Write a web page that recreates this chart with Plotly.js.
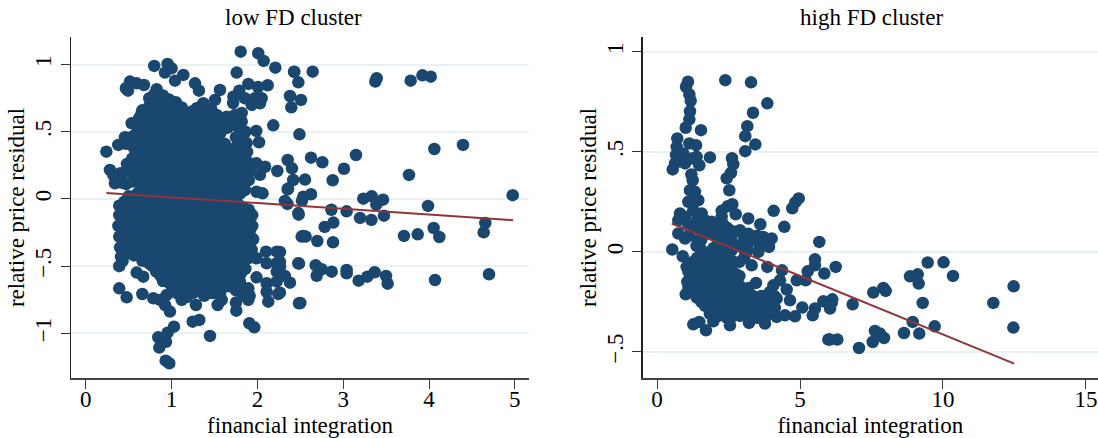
<!DOCTYPE html>
<html><head><meta charset="utf-8">
<script src="https://cdn.plot.ly/plotly-3.0.1.min.js"></script>
<style>html,body{margin:0;padding:0;background:#fff}#c{width:1098px;height:438px}</style>
</head><body><div id="c"></div>
<script>
// [financial integration, relative price residual]
const lowOutliers = [[.24,.352],[1.805,1.096],[2.01,1.084],[2.073,1.027],[2.209,.977],[1.759,.94],[2.43,.945],[2.477,.868],[1.894,.856],[2.12,.846],[2.008,.833],[2.38,.766],[2.508,.737],[2.395,.682],[2.185,.548],[2.49,.481],[1.987,.506],[2.019,.422],[2.353,.29],[2.403,.228],[2.232,.208],[2.418,.141],[2.353,.072],[1.99,.054],[2.06,.042],[2.32,-.015],[2.35,-.037],[2.477,-.105],
[.798,.99],[.954,1.004],[.923,.94],[1,.972],[1.04,.88],[1.137,.923],[1.273,.86],[1.319,.806],[.515,.873],[.678,.848],[.468,.824],[.492,.806],[.593,.86],[.826,.816],[1.564,.811],[1.506,.737],[1.72,.761],[1.789,.806],[1.855,.749],[1.972,.749],[2.05,.749],[2.03,.712],[1.934,.7],[1.717,.714],
[.535,.563],[.379,.402],[.457,.459],[.65,.637],[.282,.216],[.34,.117],[.32,.179],[.5,.25],[.4,.19],
[.593,-.548],[.67,-.578],[.39,-.665],[.477,-.732],[.659,-.707],[.787,-.739],[.865,-.751],[.943,-.714],[.923,-.789],[.981,-.838],[1.118,-.751],[1.284,-.789],[1.537,-.789],[1.584,-.751],[1.75,-.771],[1.754,-.831],[1.894,-.751],[2.127,-.764],[2.244,-.707],[1.99,-.583],[2.38,-.623],[2.32,-.573],[2.225,-.392],[2.1,-.392],[2.225,-.478],[1.934,-.38],[1.875,-.268],[1.894,-.193],[2.477,-.478],[2.516,-.28],[2.485,-.776],
[1.246,-.913],[1.323,-.9],[1.906,-.925],[1.964,-.955],[1.448,-1.019],[1.028,-.95],[.954,-.995],[.845,-1.029],[.935,-1.062],[.857,-1.106],[.931,-1.203],[.973,-1.222],
[2.427,.947],[2.644,.947],[3.39,.898],[3.374,.873],[3.786,.88],[3.923,.92],[4.02,.91],[4.062,.372],[4.396,.402],[3.149,.327],[2.625,.307],[2.757,.273],[3.009,.225],[3.767,.179],[2.877,.139],[2.555,.144],[2.357,.077],[2.625,.035],[2.535,.017],[2.52,-.013],[3.234,.002],[3.332,.02],[3.464,-.005],[3.386,-.042],[4.975,.028],[3.988,-.052],[2.862,-.08],[3.04,-.092],[2.481,-.117],[3.475,-.124],[3.196,-.141],[3.328,-.156],[2.885,-.176],[2.784,-.208],[4.656,-.179],[4.637,-.248],[4.054,-.216],[4.12,-.283],[3.708,-.275],[3.868,-.263],[2.535,-.275],[2.562,-.28],[2.698,-.313],[2.881,-.322],[2.485,-.481],[2.679,-.493],[2.749,-.523],[2.691,-.571],[2.866,-.541],[3.04,-.528],[3.04,-.553],[3.367,-.545],[3.281,-.578],[3.18,-.608],[3.499,-.573],[3.518,-.63],[4.07,-.603],[4.699,-.56],[2.5,-.774],[2.263,-.697],[2.263,-.394],[2.263,-.469],[2.263,-.506],
[1.797,-.615],[1.894,-.665],[2.108,-.627],[2.225,-.615],[2.108,-.69],[1.99,-.441],[2.108,-.478],[2.225,-.541],
[1.99,.265],[2.09,.24],[2.03,.18],[1.855,.327],[1.875,.416],[1.817,.64],[1.8,.5],[1.855,.067],[1.775,.119],[1.89,-.127]];
const lowCloudUpper = [[.42,.12],[.41,.19],[.47,.11],[.46,.2],[.48,.26],[.47,.41],[.55,.13],[.56,.22],[.54,.3],[.55,.39],[.56,.47],[.62,.12],[.63,.2],[.61,.29],[.62,.36],[.63,.44],[.61,.52],[.62,.6],[.7,.09],[.71,.17],[.69,.25],[.7,.33],[.71,.41],[.69,.5],[.7,.58],[.71,.66],[.78,.07],[.79,.16],[.77,.23],[.78,.32],[.79,.4],[.77,.47],[.78,.56],[.79,.63],[.77,.71],[.8,.78],[.86,.05],[.87,.13],[.85,.21],[.86,.3],[.87,.38],[.85,.46],[.86,.54],[.87,.61],[.85,.69],[.86,.75],[.94,.06],[.95,.15],[.93,.22],[.94,.31],[.95,.39],[.93,.47],[.94,.55],[.95,.63],[.93,.7],[1.02,.04],[1.03,.12],[1.01,.21],[1.02,.29],[1.03,.37],[1.01,.46],[1.02,.53],[1.03,.61],[1.01,.69],[1.1,.07],[1.11,.14],[1.09,.23],[1.1,.3],[1.11,.4],[1.09,.48],[1.1,.55],[1.11,.63],[1.18,.05],[1.19,.13],[1.17,.22],[1.18,.3],[1.19,.37],[1.17,.45],[1.18,.53],[1.19,.6],[1.26,.03],[1.27,.11],[1.25,.19],[1.26,.27],[1.27,.34],[1.25,.43],[1.26,.51],[1.27,.58],[1.25,.64],[1.34,.06],[1.35,.13],[1.33,.21],[1.34,.3],[1.35,.38],[1.33,.46],[1.34,.54],[1.35,.62],[1.33,.68],[1.42,.04],[1.43,.12],[1.41,.2],[1.42,.28],[1.43,.36],[1.41,.43],[1.42,.52],[1.43,.6],[1.5,.07],[1.51,.15],[1.49,.24],[1.5,.31],[1.51,.39],[1.49,.47],[1.5,.56],[1.58,.04],[1.59,.11],[1.57,.2],[1.58,.28],[1.59,.37],[1.57,.49],[1.58,.56],[1.66,.07],[1.67,.14],[1.65,.23],[1.66,.33],[1.65,.53],[1.74,.12],[1.75,.2],[1.73,.28],[1.74,.38],[1.75,.46],[1.73,.55],[1.82,.16],[1.83,.24],[1.81,.33],[1.82,.42],[1.83,.5],[1.81,.58],[1.9,.2]];
const lowCloudUpperFill = [[.58,.17],[.58,.26],[.58,.34],[.58,.43],[.66,.08],[.66,.16],[.66,.25],[.66,.33],[.66,.41],[.66,.49],[.66,.56],[.74,.13],[.74,.21],[.74,.29],[.74,.37],[.74,.45],[.74,.54],[.74,.62],[.74,.69],[.82,.03],[.82,.11],[.82,.2],[.82,.27],[.82,.36],[.82,.43],[.82,.51],[.82,.59],[.82,.67],[.82,.74],[.9,.01],[.9,.09],[.9,.17],[.9,.26],[.9,.34],[.9,.42],[.9,.5],[.9,.58],[.9,.65],[.9,.72],[.98,.02],[.98,.1],[.98,.18],[.98,.26],[.98,.35],[.98,.43],[.98,.51],[.98,.59],[.98,.66],[1.06,.01],[1.06,.09],[1.06,.17],[1.06,.25],[1.06,.34],[1.06,.42],[1.06,.5],[1.06,.58],[1.06,.65],[1.14,.02],[1.14,.1],[1.14,.18],[1.14,.26],[1.14,.34],[1.14,.42],[1.14,.5],[1.14,.57],[1.22,.08],[1.22,.16],[1.22,.24],[1.22,.32],[1.22,.4],[1.22,.48],[1.22,.56],[1.3,.07],[1.3,.15],[1.3,.23],[1.3,.31],[1.3,.39],[1.3,.47],[1.3,.55],[1.3,.62],[1.38,.09],[1.38,.17],[1.38,.25],[1.38,.33],[1.38,.41],[1.38,.49],[1.38,.57],[1.38,.65],[1.46,.08],[1.46,.16],[1.46,.24],[1.46,.34],[1.46,.42],[1.46,.5],[1.46,.58],[1.46,.67],[1.54,.11],[1.54,.19],[1.54,.27],[1.54,.35],[1.54,.43],[1.54,.52],[1.55,.61],[1.62,.16],[1.62,.25],[1.62,.33],[1.62,.41],[1.7,.09],[1.7,.18],[1.7,.26],[1.7,.36],[1.71,.61],[1.78,.24],[1.78,.32],[1.78,.41],[1.78,.6],[1.86,.22],[1.92,.24]];
const lowCloudTop = [[1.37,.712],[1.293,.675],[1.234,.65],[1.43,.65],[1.525,.625],[1.642,.612],[1.739,.625],[1.817,.575],[1.86,.5],[1.88,.35],[1.9,.27],[1.9,.14],[1.75,.08],[1.78,.1],[1.12,.68],[1.05,.72],[.97,.74],[.9,.77],[.74,.75],[.66,.66]];
const lowCloudBand = [[.5,.02],[.56,-.01],[.6,.04],[.66,.01],[.72,.04],[.78,-.01],[.84,.02],[.9,-.02],[.96,.02],[1.02,-.01],[1.08,.02],[1.14,-.02],[1.2,.02],[1.26,-.02],[1.32,.01],[1.38,-.01],[1.44,.01],[1.5,0],[1.56,-.01],[1.62,.02],[1.68,0],[1.74,.03],[1.8,.04],[1.78,-.04],[1.72,-.06],[.45,-.02],[.39,-.05],[.39,-.12],[.38,-.2],[1.9,-.08],[1.85,-.07],[1.8,-.09],[1.94,-.12],[1.94,-.2],[1.95,-.3]];
const lowCloudLower = [[.4,-.12],[.41,-.2],[.39,-.28],[.4,-.36],[.41,-.43],[.39,-.5],[.46,-.06],[.47,-.14],[.45,-.24],[.46,-.32],[.47,-.4],[.54,-.03],[.55,-.11],[.53,-.2],[.54,-.28],[.55,-.36],[.56,-.42],[.62,-.02],[.63,-.1],[.61,-.19],[.62,-.27],[.63,-.35],[.61,-.41],[.7,-.03],[.71,-.12],[.69,-.2],[.7,-.28],[.71,-.36],[.69,-.44],[.78,-.04],[.79,-.1],[.77,-.19],[.78,-.27],[.79,-.35],[.77,-.43],[.78,-.5],[.86,-.01],[.87,-.09],[.85,-.17],[.86,-.26],[.87,-.34],[.85,-.42],[.86,-.5],[.87,-.57],[.94,-.03],[.95,-.12],[.93,-.2],[.94,-.28],[.95,-.37],[.93,-.45],[.94,-.53],[.95,-.6],[1.02,-.02],[1.03,-.09],[1.01,-.18],[1.02,-.26],[1.03,-.35],[1.01,-.43],[1.02,-.51],[1.03,-.59],[1.01,-.66],[1.1,-.05],[1.11,-.13],[1.09,-.21],[1.1,-.3],[1.11,-.38],[1.09,-.46],[1.1,-.54],[1.11,-.62],[1.09,-.7],[1.18,-.03],[1.19,-.1],[1.17,-.18],[1.18,-.27],[1.19,-.35],[1.17,-.43],[1.18,-.5],[1.19,-.58],[1.17,-.67],[1.18,-.73],[1.26,-.06],[1.27,-.14],[1.25,-.22],[1.26,-.31],[1.27,-.39],[1.25,-.47],[1.26,-.55],[1.27,-.63],[1.25,-.7],[1.34,-.04],[1.35,-.11],[1.33,-.19],[1.34,-.28],[1.35,-.36],[1.33,-.44],[1.34,-.52],[1.35,-.6],[1.33,-.68],[1.42,-.02],[1.43,-.09],[1.41,-.17],[1.42,-.25],[1.43,-.34],[1.41,-.42],[1.42,-.5],[1.43,-.58],[1.41,-.66],[1.5,-.06],[1.51,-.14],[1.49,-.22],[1.5,-.3],[1.51,-.38],[1.49,-.46],[1.5,-.54],[1.51,-.62],[1.49,-.7],[1.58,-.03],[1.59,-.11],[1.57,-.2],[1.58,-.27],[1.59,-.36],[1.57,-.44],[1.58,-.52],[1.59,-.6],[1.57,-.69],[1.66,-.07],[1.67,-.15],[1.65,-.23],[1.66,-.32],[1.67,-.4],[1.65,-.48],[1.66,-.56],[1.67,-.65],[1.74,-.09],[1.75,-.17],[1.73,-.26],[1.74,-.34],[1.75,-.42],[1.73,-.5],[1.74,-.6],[1.75,-.68],[1.82,-.13],[1.83,-.21],[1.81,-.29],[1.82,-.38],[1.83,-.46],[1.81,-.55],[1.82,-.66],[1.83,-.72],[1.9,-.15],[1.91,-.24],[1.89,-.33],[1.9,-.44],[1.91,-.72]];
const lowCloudLowerFill = [[.44,-.1],[.44,-.18],[.43,-.26],[.44,-.34],[.43,-.46],[.5,-.08],[.5,-.16],[.5,-.24],[.5,-.32],[.5,-.4],[.58,-.07],[.58,-.15],[.58,-.23],[.58,-.31],[.58,-.39],[.66,-.06],[.66,-.15],[.66,-.23],[.66,-.31],[.66,-.39],[.66,-.46],[.74,-.07],[.74,-.15],[.74,-.24],[.74,-.32],[.74,-.4],[.74,-.48],[.82,-.06],[.82,-.13],[.82,-.22],[.82,-.3],[.82,-.38],[.82,-.46],[.82,-.54],[.9,-.05],[.9,-.14],[.9,-.22],[.9,-.3],[.9,-.38],[.9,-.46],[.9,-.54],[.9,-.61],[.98,-.07],[.98,-.15],[.98,-.23],[.98,-.31],[.98,-.4],[.98,-.48],[.98,-.56],[.98,-.63],[1.06,-.05],[1.06,-.14],[1.06,-.22],[1.06,-.3],[1.06,-.39],[1.06,-.47],[1.06,-.55],[1.06,-.63],[1.06,-.7],[1.14,-.08],[1.14,-.17],[1.14,-.25],[1.14,-.34],[1.14,-.42],[1.14,-.5],[1.14,-.58],[1.14,-.66],[1.22,-.06],[1.22,-.14],[1.22,-.22],[1.22,-.31],[1.22,-.39],[1.22,-.47],[1.22,-.54],[1.22,-.62],[1.22,-.7],[1.3,-.1],[1.3,-.18],[1.3,-.26],[1.3,-.35],[1.3,-.43],[1.3,-.51],[1.3,-.59],[1.3,-.67],[1.38,-.07],[1.38,-.15],[1.38,-.23],[1.38,-.32],[1.38,-.4],[1.38,-.48],[1.38,-.56],[1.38,-.64],[1.38,-.72],[1.46,-.06],[1.46,-.13],[1.46,-.21],[1.46,-.29],[1.46,-.38],[1.46,-.46],[1.46,-.54],[1.46,-.62],[1.46,-.7],[1.54,-.1],[1.54,-.18],[1.54,-.26],[1.54,-.34],[1.54,-.42],[1.54,-.5],[1.54,-.58],[1.54,-.66],[1.62,-.07],[1.62,-.15],[1.62,-.24],[1.62,-.32],[1.62,-.4],[1.62,-.48],[1.62,-.56],[1.62,-.64],[1.7,-.11],[1.7,-.19],[1.7,-.28],[1.7,-.36],[1.7,-.44],[1.7,-.52],[1.7,-.6],[1.78,-.15],[1.78,-.23],[1.78,-.31],[1.78,-.4],[1.78,-.48],[1.78,-.55],[1.86,-.17],[1.86,-.25],[1.86,-.35],[1.86,-.43],[1.86,-.52]];
const highOutliers = [[1.084,.85],[1.014,.825],[1.13,.787],[1.178,.755],[1.154,.703],[1.13,.662],[1.003,.62],[1.538,.608],[2.388,.858],[3.287,.847],[3.857,.742],[3.357,.695],[3.157,.628],[3.087,.578],[3.438,.537],[3.087,.503],[2.622,.468],[2.668,.438],[2.587,.395],[2.437,.368],[2.528,.308],[1.853,.472],[1.479,.433],[.549,.412],[.71,.567],[1.364,.533],[1.13,.542],[.689,.525],[.664,.484],[.629,.442],[.92,.492],[.979,.442],[1.213,.467],[1.388,.475],[1.2,.387],[1.248,.358],[1.154,.308],[1.329,.3],[1.27,.258],[1.094,.25],[1.444,.258],[2.633,.238],[2.472,.228],[2.752,.188],[2.262,.205],[3.192,.167],[4.08,.205],[4.955,.267],[4.836,.247],[4.73,.218],[3.612,.138],[4.451,.125],[.804,.192],[.745,.158],[.979,.175],[1.27,.208],[1.563,.192],[1.388,.158],[1.678,.158],[1.913,.15],[2.203,.142],[2.262,.175],[2.902,.108],[2.552,.108],
[.745,.092],[.979,.067],[1.444,.058],[.535,.012],[.899,-.022],[1.038,-.075],[1.06,-.15],[1.003,-.212],[1.388,-.228],[5.675,.05],[4.01,.067],[3.916,.025],[3.6,.033],[3.542,0],[3.717,.075],[5.524,-.037],[5.524,-.067],[5.269,-.097],[5.85,-.108],[4.371,-.092],[3.857,-.075],[3.311,-.067],[2.878,-.05],[4.885,-.142],[5.199,-.142],[4.301,-.142],[4.068,-.167],[3.462,-.155],[4.535,-.188],[4.65,-.242],[4.185,-.233],[5.08,-.278],[5.524,-.283],[5.444,-.317],[4.825,-.322],[4.476,-.317],[4.185,-.325],[3.776,-.358],[3.217,-.355],[2.552,-.367],[1.969,-.347],[1.27,-.362],[1.479,-.35],[1.713,-.392],[5.99,-.438],[5.815,-.247],[6.108,-.255],
[6.248,-.075],[6.13,-.237],[6.05,-.283],[6.842,-.262],[6.306,-.438],[6.05,-.438],[7.063,-.48],[7.563,-.203],[7.913,-.18],[7.997,-.195],[7.622,-.395],[7.797,-.408],[7.937,-.43],[7.542,-.45],[8.636,-.405],[8.94,-.35],[9.17,-.408],[9.71,-.372],[9.29,-.255],[11.76,-.255],[12.47,-.172],[12.46,-.378],[8.846,-.122],[9.115,-.112],[9.15,-.158],[9.465,-.053],[10.02,-.052],[10.35,-.12]];
const highCloud = [[1.1,.13],[1.12,.08],[1.1,-.1],[1.12,-.14],[1.1,-.18],[1.4,.14],[1.38,.03],[1.4,-.03],[1.42,-.08],[1.38,-.13],[1.4,-.18],[1.42,-.22],[1.7,.13],[1.72,.09],[1.7,-.02],[1.72,-.07],[1.68,-.12],[1.7,-.17],[1.72,-.23],[1.68,-.27],[2,.12],[2.02,.08],[1.98,.02],[2,-.04],[2.02,-.09],[1.98,-.14],[2,-.19],[2.02,-.24],[1.98,-.29],[2,-.33],[2.3,.14],[2.32,.11],[2.28,.05],[2.3,0],[2.32,-.05],[2.28,-.1],[2.3,-.15],[2.32,-.2],[2.28,-.25],[2.3,-.3],[2.6,.06],[2.62,.01],[2.58,-.04],[2.6,-.09],[2.62,-.14],[2.58,-.19],[2.6,-.24],[2.62,-.29],[2.58,-.33],[2.9,.03],[2.88,-.12],[2.9,-.17],[2.92,-.22],[2.88,-.27],[2.9,-.32],[3.2,.09],[3.22,.05],[3.18,.01],[3.2,-.18],[3.22,-.23],[3.18,-.27],[3.2,-.32],[3.5,.08],[3.52,-.24],[3.48,-.29],[3.5,-.33],[3.8,-.23],[3.82,-.28],[3.78,-.33],[4.1,-.22],[4.12,-.28]];
const highCloudFill = [[1.25,.12],[1.25,-.05],[1.25,-.1],[1.25,-.15],[1.25,-.2],[1.55,.11],[1.55,.06],[1.55,.01],[1.55,-.05],[1.55,-.1],[1.55,-.15],[1.55,-.2],[1.55,-.25],[1.85,.11],[1.85,0],[1.85,-.05],[1.85,-.1],[1.85,-.16],[1.85,-.21],[1.85,-.26],[1.85,-.31],[2.15,.1],[2.15,.05],[2.15,-.01],[2.15,-.07],[2.15,-.12],[2.15,-.17],[2.15,-.22],[2.15,-.27],[2.15,-.32],[2.45,.12],[2.45,.07],[2.45,.02],[2.45,-.03],[2.45,-.08],[2.45,-.13],[2.45,-.18],[2.45,-.23],[2.45,-.28],[2.45,-.33],[2.75,.1],[2.75,-.11],[2.75,-.16],[2.75,-.21],[2.75,-.26],[2.75,-.31],[3.05,.06],[3.05,.01],[3.05,-.03],[3.05,-.2],[3.05,-.25],[3.05,-.3],[3.35,.07],[3.35,-.22],[3.35,-.27],[3.35,-.32],[3.65,-.22],[3.65,-.27],[3.65,-.31],[3.95,-.2],[3.95,-.25],[3.95,-.3]];
const lowFitX = [.24,4.98], lowFitY = [.045,-.158];
const highFitX = [.513,12.49], highFitY = [.142,-.558];
const lowXTicks = [0,1,2,3,4,5];
const highXTicks = [0,5,10,15];
const lowYTicks = [-1,-.5,0,.5,1];
const lowYLabels = ['\u22121','\u2212.5','0','.5','1'];
const highYTicks = [-.5,0,.5,1];
const highYLabels = ['\u2212.5','0','.5','1'];
const axisTitleX = 'financial integration', axisTitleY = 'relative price residual';

const W=1098,H=438, NAVY='#1a476f', RED='#90353b', GRID='#eaf2f3';
const FONT='"Liberation Serif","Times New Roman",serif', FS=23;
const lowPts = lowOutliers.concat(lowCloudUpper, lowCloudUpperFill, lowCloudTop, lowCloudBand, lowCloudLower, lowCloudLowerFill);
const highPts = highOutliers.concat(highCloud, highCloudFill);
const pts=(p,xa,ya)=>({type:'scatter',mode:'markers',x:p.map(d=>d[0]),y:p.map(d=>d[1]),xaxis:xa,yaxis:ya,marker:{color:NAVY,size:12.5,line:{width:0}},hoverinfo:'skip'});
const fit=(x,y,xa,ya)=>({type:'scatter',mode:'lines',x,y,xaxis:xa,yaxis:ya,line:{color:RED,width:2},hoverinfo:'skip'});
const xAxis=(dom,range,vals,anchor)=>({domain:dom,range,anchor,tickmode:'array',tickvals:vals,ticktext:vals.map(String),showgrid:false,zeroline:false,showline:true,linecolor:'#444',linewidth:1.5,ticks:'outside',ticklen:9,tickwidth:1,tickcolor:'#444',tickangle:0,ticklabelstandoff:-9,title:{text:axisTitleX,standoff:6,font:{family:FONT,size:FS,color:'#000'}},tickfont:{family:FONT,size:FS,color:'#000'}});
const yAxis=(range,vals,labels,anchor)=>({domain:[1-378/H,1-37/H],range,anchor,tickmode:'array',tickvals:vals,ticktext:labels,showgrid:true,gridcolor:GRID,gridwidth:2,zeroline:false,showline:true,linecolor:'#222',linewidth:1.5,ticks:'outside',ticklen:9,tickwidth:1,tickcolor:'#333',tickangle:-90,title:{text:axisTitleY,standoff:0,font:{family:FONT,size:FS,color:'#000'}},tickfont:{family:FONT,size:FS,color:'#000'}});
const data=[pts(lowPts,'x','y'),fit(lowFitX,lowFitY,'x','y'),pts(highPts,'x2','y2'),fit(highFitX,highFitY,'x2','y2')];
const layout={width:W,height:H,margin:{l:0,r:0,t:0,b:0},paper_bgcolor:'#fff',plot_bgcolor:'#fff',showlegend:false,
 xaxis:xAxis([71/W,529/W],[-.172,5.165],lowXTicks,'y'),
 yaxis:yAxis([-1.332,1.205],lowYTicks,lowYLabels,'x'),
 xaxis2:xAxis([642.7/W,1],[-.5,15.42],highXTicks,'y2'),
 yaxis2:yAxis([-.63,1.0735],highYTicks,highYLabels,'x2'),
 annotations:[
  {xref:'paper',yref:'paper',x:293/W,y:1-18/H,text:'low FD cluster',showarrow:false,xanchor:'center',yanchor:'middle',font:{family:FONT,size:FS,color:'#000'}},
  {xref:'paper',yref:'paper',x:871.5/W,y:1-18/H,text:'high FD cluster',showarrow:false,xanchor:'center',yanchor:'middle',font:{family:FONT,size:FS,color:'#000'}}
 ]};
Plotly.newPlot('c',data,layout,{displayModeBar:false,staticPlot:true});
</script></body></html>
